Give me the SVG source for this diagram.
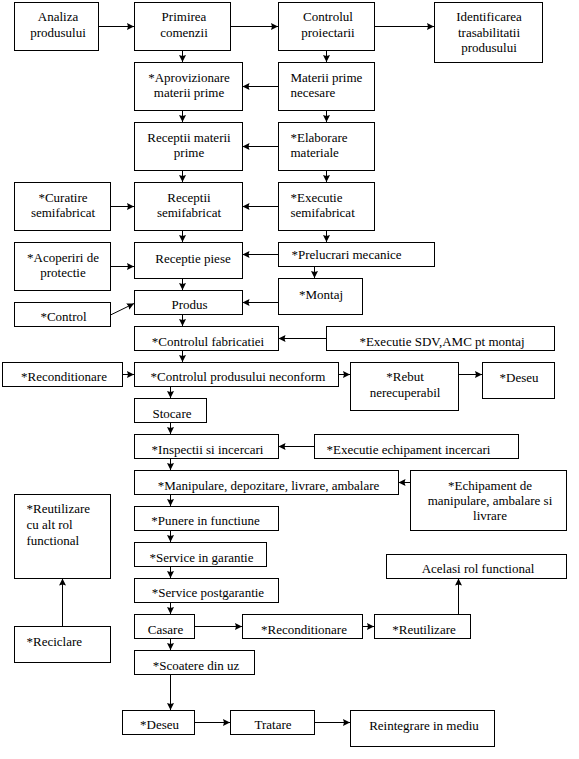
<svg xmlns="http://www.w3.org/2000/svg" width="579" height="759" viewBox="0 0 579 759">
<style>
rect{fill:#fff;stroke:#000;stroke-width:1}
text{font-family:'Liberation Serif','Times New Roman',Times,Tinos,'DejaVu Serif','Noto Serif','Nimbus Roman','FreeSerif',Georgia,serif;font-size:13px;fill:#000}
.c{text-anchor:middle}
#edges line{stroke:#000;stroke-width:1;marker-end:url(#ah)}
</style>
<defs>
<marker id="ah" markerUnits="userSpaceOnUse" markerWidth="9" markerHeight="9" refX="7" refY="3.5" orient="auto">
<path d="M0,0 L7,3.5 L0,7 L1,3.5 z" fill="#000"/>
</marker>
</defs>
<rect x="0" y="0" width="579" height="759" style="fill:#fff;stroke:none"/>
<g id="edges">
<line x1="98.5" y1="26.5" x2="134" y2="26.5"/>
<line x1="230.5" y1="26.5" x2="278" y2="26.5"/>
<line x1="374.5" y1="26.5" x2="434" y2="26.5"/>
<line x1="182.5" y1="50.5" x2="182.5" y2="62"/>
<line x1="326.5" y1="50.5" x2="326.5" y2="62"/>
<line x1="278" y1="86.5" x2="242.5" y2="86.5"/>
<line x1="182.5" y1="110.5" x2="182.5" y2="122"/>
<line x1="326.5" y1="110.5" x2="326.5" y2="122"/>
<line x1="278" y1="146.5" x2="242.5" y2="146.5"/>
<line x1="182.5" y1="170.5" x2="182.5" y2="182"/>
<line x1="326.5" y1="170.5" x2="326.5" y2="182"/>
<line x1="110.5" y1="206.5" x2="134" y2="206.5"/>
<line x1="278" y1="206.5" x2="242.5" y2="206.5"/>
<line x1="182.5" y1="230.5" x2="182.5" y2="242"/>
<line x1="326.5" y1="230.5" x2="326.5" y2="242"/>
<line x1="110.5" y1="266.5" x2="134" y2="266.5"/>
<line x1="278" y1="254.5" x2="242.5" y2="254.5"/>
<line x1="182.5" y1="278.5" x2="182.5" y2="290"/>
<line x1="314.5" y1="266.5" x2="314.5" y2="278"/>
<line x1="278" y1="302.5" x2="242.5" y2="302.5"/>
<line x1="110.5" y1="315" x2="134" y2="303.5"/>
<line x1="182.5" y1="314.5" x2="182.5" y2="326"/>
<line x1="326" y1="338.5" x2="278.5" y2="338.5"/>
<line x1="182.5" y1="350.5" x2="182.5" y2="362"/>
<line x1="122.5" y1="374.5" x2="134" y2="374.5"/>
<line x1="338.5" y1="374.5" x2="350" y2="374.5"/>
<line x1="458.5" y1="374.5" x2="482" y2="374.5"/>
<line x1="170.5" y1="386.5" x2="170.5" y2="398"/>
<line x1="170.5" y1="422.5" x2="170.5" y2="434"/>
<line x1="314" y1="446.5" x2="278.5" y2="446.5"/>
<line x1="170.5" y1="458.5" x2="170.5" y2="470"/>
<line x1="410" y1="482.5" x2="398.5" y2="482.5"/>
<line x1="170.5" y1="494.5" x2="170.5" y2="506"/>
<line x1="170.5" y1="530.5" x2="170.5" y2="542"/>
<line x1="170.5" y1="566.5" x2="170.5" y2="578"/>
<line x1="170.5" y1="602.5" x2="170.5" y2="614"/>
<line x1="194.5" y1="626.5" x2="242" y2="626.5"/>
<line x1="362.5" y1="626.5" x2="374" y2="626.5"/>
<line x1="458.5" y1="614" x2="458.5" y2="578.5"/>
<line x1="62.5" y1="626" x2="62.5" y2="578.5"/>
<line x1="170.5" y1="638.5" x2="170.5" y2="650"/>
<line x1="170.5" y1="674.5" x2="170.5" y2="710"/>
<line x1="194.5" y1="722.5" x2="230" y2="722.5"/>
<line x1="314.5" y1="722.5" x2="350" y2="722.5"/>
</g>
<g id="n1"><rect x="14.5" y="2.5" width="84" height="48"/><text class="c" x="58" y="21">Analiza</text><text class="c" x="58" y="36.5">produsului</text></g>
<g id="n2"><rect x="134.5" y="2.5" width="96" height="48"/><text class="c" x="184" y="21">Primirea</text><text class="c" x="184" y="36.5">comenzii</text></g>
<g id="n3"><rect x="278.5" y="2.5" width="96" height="48"/><text class="c" x="328" y="21">Controlul</text><text class="c" x="328" y="36.5">proiectarii</text></g>
<g id="n4"><rect x="434.5" y="2.5" width="108" height="60"/><text class="c" x="489" y="21">Identificarea</text><text class="c" x="489" y="36.5">trasabilitatii</text><text class="c" x="489" y="52">produsului</text></g>
<g id="n5"><rect x="134.5" y="62.5" width="108" height="48"/><text class="c" x="189" y="82">*Aprovizionare</text><text class="c" x="189" y="97">materii prime</text></g>
<g id="n6"><rect x="278.5" y="62.5" width="96" height="48"/><text x="290.5" y="82">Materii prime</text><text x="290.5" y="97">necesare</text></g>
<g id="n7"><rect x="134.5" y="122.5" width="108" height="48"/><text class="c" x="189" y="142">Receptii materii</text><text class="c" x="189" y="157">prime</text></g>
<g id="n8"><rect x="278.5" y="122.5" width="96" height="48"/><text x="290.5" y="142">*Elaborare</text><text x="290.5" y="157">materiale</text></g>
<g id="n9"><rect x="14.5" y="182.5" width="96" height="48"/><text class="c" x="63" y="202">*Curatire</text><text class="c" x="63" y="217">semifabricat</text></g>
<g id="n10"><rect x="134.5" y="182.5" width="108" height="48"/><text class="c" x="189" y="202">Receptii</text><text class="c" x="189" y="217">semifabricat</text></g>
<g id="n11"><rect x="278.5" y="182.5" width="96" height="48"/><text x="290.5" y="202">*Executie</text><text x="290.5" y="217">semifabricat</text></g>
<g id="n12"><rect x="14.5" y="242.5" width="96" height="48"/><text class="c" x="63" y="262">*Acoperiri de</text><text class="c" x="63" y="277">protectie</text></g>
<g id="n13"><rect x="134.5" y="242.5" width="108" height="36"/><text class="c" x="193" y="263">Receptie piese</text></g>
<g id="n14"><rect x="278.5" y="242.5" width="156" height="24"/><text x="291.5" y="259">*Prelucrari mecanice</text></g>
<g id="n15"><rect x="134.5" y="290.5" width="108" height="24"/><text class="c" x="189.5" y="309">Produs</text></g>
<g id="n16"><rect x="278.5" y="278.5" width="84" height="36"/><text class="c" x="321" y="298.5">*Montaj</text></g>
<g id="n17"><rect x="14.5" y="302.5" width="96" height="24"/><text class="c" x="63.5" y="321">*Control</text></g>
<g id="n18"><rect x="134.5" y="326.5" width="144" height="24"/><text class="c" x="208" y="345.5">*Controlul fabricatiei</text></g>
<g id="n19"><rect x="326.5" y="326.5" width="228" height="24"/><text class="c" x="442" y="345.5">*Executie SDV,AMC pt montaj</text></g>
<g id="n20"><rect x="2.5" y="362.5" width="120" height="24"/><text class="c" x="64" y="381">*Reconditionare</text></g>
<g id="n21"><rect x="134.5" y="362.5" width="204" height="24"/><text class="c" x="238" y="381">*Controlul produsului neconform</text></g>
<g id="n22"><rect x="350.5" y="362.5" width="108" height="48"/><text class="c" x="405" y="381">*Rebut</text><text class="c" x="405" y="397">nerecuperabil</text></g>
<g id="n23"><rect x="482.5" y="362.5" width="72" height="36"/><text class="c" x="519" y="381.5">*Deseu</text></g>
<g id="n24"><rect x="134.5" y="398.5" width="72" height="24"/><text class="c" x="172" y="417.5">Stocare</text></g>
<g id="n25"><rect x="134.5" y="434.5" width="144" height="24"/><text class="c" x="207.5" y="454">*Inspectii si incercari</text></g>
<g id="n26"><rect x="314.5" y="434.5" width="204" height="24"/><text x="326.5" y="453.5">*Executie  echipament incercari</text></g>
<g id="n27"><rect x="134.5" y="470.5" width="264" height="24"/><text class="c" x="268.5" y="490">*Manipulare, depozitare, livrare, ambalare</text></g>
<g id="n28"><rect x="410.5" y="470.5" width="156" height="60"/><text class="c" x="490" y="490">*Echipament de</text><text class="c" x="490" y="505">manipulare, ambalare si</text><text class="c" x="490" y="520">livrare</text></g>
<g id="n29"><rect x="14.5" y="494.5" width="96" height="84"/><text x="26.5" y="513">*Reutilizare</text><text x="26.5" y="529">cu alt rol</text><text x="26.5" y="544.5">functional</text></g>
<g id="n30"><rect x="134.5" y="506.5" width="144" height="24"/><text class="c" x="205.5" y="525">*Punere in functiune</text></g>
<g id="n31"><rect x="134.5" y="542.5" width="132" height="24"/><text class="c" x="201.5" y="561.5">*Service in garantie</text></g>
<g id="n32"><rect x="386.5" y="554.5" width="180" height="24"/><text class="c" x="478" y="573">Acelasi rol functional</text></g>
<g id="n33"><rect x="134.5" y="578.5" width="144" height="24"/><text class="c" x="208" y="597">*Service postgarantie</text></g>
<g id="n34"><rect x="134.5" y="614.5" width="60" height="24"/><text class="c" x="165.5" y="633.5">Casare</text></g>
<g id="n35"><rect x="242.5" y="614.5" width="120" height="24"/><text class="c" x="304" y="633.5">*Reconditionare</text></g>
<g id="n36"><rect x="374.5" y="614.5" width="96" height="24"/><text class="c" x="424" y="633.5">*Reutilizare</text></g>
<g id="n37"><rect x="14.5" y="626.5" width="96" height="36"/><text x="26.5" y="645.5">*Reciclare</text></g>
<g id="n38"><rect x="134.5" y="650.5" width="120" height="24"/><text class="c" x="196" y="669.5">*Scoatere din uz</text></g>
<g id="n39"><rect x="122.5" y="710.5" width="72" height="24"/><text class="c" x="159.5" y="729">*Deseu</text></g>
<g id="n40"><rect x="230.5" y="710.5" width="84" height="24"/><text class="c" x="273" y="729">Tratare</text></g>
<g id="n41"><rect x="350.5" y="710.5" width="144" height="36"/><text class="c" x="424" y="730">Reintegrare in mediu</text></g>
</svg>
